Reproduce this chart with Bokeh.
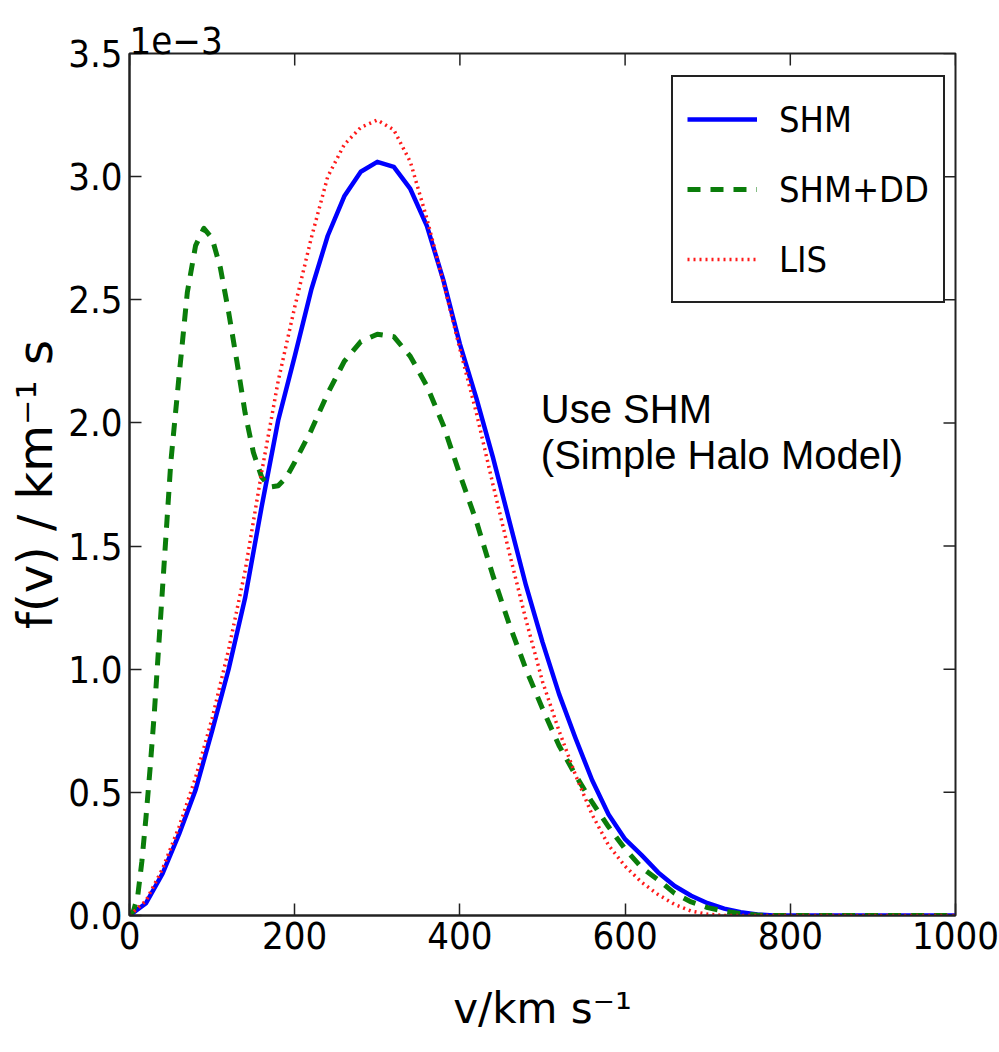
from math import pi
from bokeh.plotting import figure
from bokeh.models import (Range1d, FixedTicker, Legend, LegendItem,
                          PrintfTickFormatter, Label)
from bokeh.embed import file_html
from bokeh.resources import INLINE

# ---- data (f in units of 1e-3 km^-1 s) ----
v_grid = [0, 20, 40, 60, 80, 100, 120, 140, 160, 180, 200, 220, 240, 260, 280,
          300, 320, 340, 360, 380, 400, 420, 440, 460, 480, 500, 520, 540, 560,
          580, 600, 620, 640, 660, 680, 700, 720, 740, 760, 780, 800, 850, 900,
          950, 1000]
f_shm = [0, 0.05, 0.17, 0.33, 0.51, 0.75, 1.00, 1.29, 1.66, 2.01, 2.27, 2.54,
         2.76, 2.92, 3.02, 3.06, 3.04, 2.95, 2.80, 2.58, 2.32, 2.10, 1.86, 1.60,
         1.34, 1.11, 0.90, 0.72, 0.55, 0.41, 0.31, 0.245, 0.175, 0.12, 0.08,
         0.05, 0.028, 0.013, 0.004, 0.0, 0.0, 0.0, 0.0, 0.0, 0.0]
f_lis = [0, 0.06, 0.19, 0.36, 0.56, 0.80, 1.08, 1.40, 1.80, 2.17, 2.47, 2.75,
         3.00, 3.13, 3.20, 3.23, 3.19, 3.06, 2.83, 2.57, 2.30, 2.04, 1.75, 1.47,
         1.20, 0.95, 0.75, 0.57, 0.41, 0.285, 0.20, 0.135, 0.085, 0.045, 0.018,
         0.005, 0.0, 0.0, 0.0, 0.0, 0.0, 0.0, 0.0, 0.0, 0.0]

v_dd = [0, 5, 10, 15, 20, 25, 30, 40, 50, 60, 70, 80, 90, 100, 110, 120, 130, 140,
        150, 160, 170, 180, 190, 200, 220, 240, 260, 280, 300, 320, 340, 360, 380,
        400, 420, 440, 460, 480, 500, 520, 540, 560, 580, 600, 620, 640, 660, 680,
        700, 720, 740, 760, 780, 800, 850, 900, 950, 1000]
f_dd = [0, 0.02, 0.08, 0.22, 0.40, 0.60, 0.82, 1.33, 1.84, 2.19, 2.53, 2.72, 2.79,
        2.75, 2.63, 2.45, 2.25, 2.04, 1.88, 1.78, 1.74, 1.745, 1.78, 1.84, 1.97,
        2.12, 2.25, 2.33, 2.36, 2.35, 2.27, 2.15, 1.99, 1.79, 1.60, 1.38, 1.18,
        1.00, 0.84, 0.69, 0.57, 0.46, 0.36, 0.27, 0.195, 0.145, 0.09, 0.055,
        0.032, 0.017, 0.008, 0.002, 0.0, 0.0, 0.0, 0.0, 0.0, 0.0]

labels = ["SHM", "SHM+DD", "LIS"]
x_ticks = [0, 200, 400, 600, 800, 1000]
y_ticks = [0, 0.5, 1.0, 1.5, 2.0, 2.5, 3.0, 3.5]
exponent_text = "1e\u22123"
x_label = "v/km s\u207b\u00b9"
y_label = "f(v) / km\u207b\u00b9 s"
note_lines = ["Use SHM", "(Simple Halo Model)"]

COND = "'DejaVu Sans Condensed', 'DejaVu Sans', sans-serif"
FRAME = "#222222"
TICK_LEN = 12

p = figure(width=999, height=1052, output_backend="svg", toolbar_location=None,
           x_range=Range1d(x_ticks[0], x_ticks[-1]),
           y_range=Range1d(y_ticks[0], y_ticks[-1]),
           min_border_left=129, min_border_right=44, min_border_top=53,
           min_border_bottom=137)
p.grid.visible = False
p.outline_line_color = FRAME
p.outline_line_width = 2
p.outline_line_alpha = 1
p.background_fill_color = "white"
p.border_fill_color = "white"

# exponent shown as the (left aligned) title
p.title.text = exponent_text
p.title.align = "left"
p.title.standoff = 0
p.title.offset = 0
p.title.text_font = COND
p.title.text_font_size = "38px"
p.title.text_font_style = "normal"
p.title.text_color = "black"

r_shm = p.line(v_grid, f_shm, line_color="#0000ff", line_width=4.5,
               line_join="round")
r_dd = p.line(v_dd, f_dd, line_color="#0a7d0a", line_width=5, line_dash="13 10",
              line_join="round")
r_lis = p.line(v_grid, f_lis, line_color="#ff1a1a", line_width=3.5,
               line_dash="2 4", line_join="round")

# inward ticks on the top and right frame edges
p.ray(x=x_ticks, y=[y_ticks[-1]] * len(x_ticks), length=TICK_LEN,
      length_units="screen", angle=-pi / 2, line_color=FRAME, line_width=1.5)
p.ray(x=[x_ticks[-1]] * len(y_ticks), y=y_ticks, length=TICK_LEN,
      length_units="screen", angle=pi, line_color=FRAME, line_width=1.5)

p.xaxis.ticker = FixedTicker(ticks=x_ticks)
p.yaxis.ticker = FixedTicker(ticks=y_ticks)
p.yaxis.formatter = PrintfTickFormatter(format="%.1f")

for ax in list(p.xaxis) + list(p.yaxis):
    ax.major_tick_in = TICK_LEN
    ax.major_tick_out = 0
    ax.minor_tick_line_color = None
    ax.axis_line_color = FRAME
    ax.axis_line_width = 2
    ax.major_tick_line_color = FRAME
    ax.major_tick_line_width = 1.5
    ax.major_label_text_font = COND
    ax.major_label_text_font_size = "38px"
    ax.major_label_text_color = "black"
    ax.axis_label_text_font_style = "normal"
    ax.axis_label_text_color = "black"
    ax.axis_label_text_font = "DejaVu Sans"

p.xaxis.major_label_standoff = 6
p.yaxis.major_label_standoff = 7
p.xaxis.axis_label = x_label
p.xaxis.axis_label_text_font_size = "42px"
p.xaxis.axis_label_standoff = 32
p.yaxis.axis_label = y_label
p.yaxis.axis_label_text_font_size = "48px"
p.yaxis.axis_label_standoff = 2

legend = Legend(items=[LegendItem(label=labels[0], renderers=[r_shm]),
                       LegendItem(label=labels[1], renderers=[r_dd]),
                       LegendItem(label=labels[2], renderers=[r_lis])],
                location=(542, 612))
legend.margin = 0
legend.padding = 14
legend.spacing = 14
legend.glyph_width = 70
legend.glyph_height = 56
legend.label_height = 56
legend.label_standoff = 22
legend.label_text_font = COND
legend.label_text_font_size = "36px"
legend.label_text_color = "black"
legend.border_line_color = FRAME
legend.border_line_width = 2
legend.border_line_alpha = 1
legend.background_fill_color = "white"
legend.background_fill_alpha = 1
p.add_layout(legend)

# annotation text (inside the frame)
p.add_layout(Label(x=498, y=2.058, text=note_lines[0], text_font="Liberation Sans",
                   text_font_size="40px", text_align="left",
                   text_baseline="alphabetic", text_color="black"))
p.add_layout(Label(x=498, y=1.868, text=note_lines[1],
                   text_font="Liberation Sans", text_font_size="40px",
                   text_align="left", text_baseline="alphabetic",
                   text_color="black"))

open("out.html", "w").write(file_html(p, INLINE))
